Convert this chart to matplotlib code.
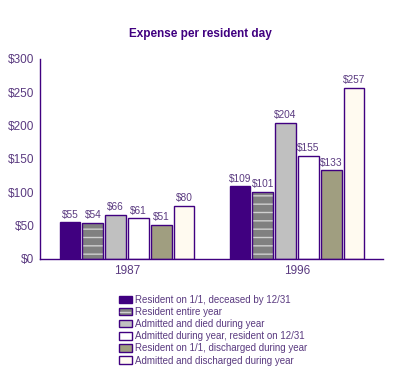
import numpy as np
import matplotlib.pyplot as plt
from matplotlib.legend_handler import HandlerBase

years = ['1987', '1996']
categories = [
    'Resident on 1/1, deceased by 12/31',
    'Resident entire year',
    'Admitted and died during year',
    'Admitted during year, resident on 12/31',
    'Resident on 1/1, discharged during year',
    'Admitted and discharged during year',
]
values = {
    '1987': [55, 54, 66, 61, 51, 80],
    '1996': [109, 101, 204, 155, 133, 257],
}
colors = ['#400080', '#808080', '#c0c0c0', '#ffffff', '#a09e80', '#fffaf0']

purple = '#400080'
text_purple = '#5a3a80'

plt.rcParams['font.family'] = ['Liberation Sans', 'DejaVu Sans']

fig = plt.figure(figsize=(4.0, 3.71), dpi=100)
ax = fig.add_axes([0.1, 0.302, 0.8575, 0.539])

x = np.arange(len(years))
slot = 0.134
width = 0.122
offsets = (np.arange(len(categories)) - (len(categories) - 1) / 2) * slot

for j, cat in enumerate(categories):
    vals = [values[y][j] for y in years]
    pos = x + offsets[j]
    if j == 1:
        # gray bars with light horizontal stripes
        ax.bar(pos, vals, width, color=colors[j], edgecolor='#d0d0d0',
               hatch='--', linewidth=0, zorder=2)
        ax.bar(pos, vals, width, fill=False, edgecolor=purple,
               linewidth=1, zorder=3)
    else:
        ax.bar(pos, vals, width, color=colors[j], edgecolor=purple,
               linewidth=1, zorder=2)
    for px, v in zip(pos, vals):
        ax.text(px, v + 4, f'${v}', ha='center', va='bottom',
                fontsize=7.3, color=text_purple)

ax.set_xlim(-0.512, 0.506 + 1)
ax.set_ylim(0, 300)
ax.set_yticks(range(0, 301, 50))
ax.set_yticklabels([f'${t}' for t in range(0, 301, 50)])
ax.set_xticks(x)
ax.set_xticklabels(years)
ax.tick_params(length=0, labelsize=8.5, labelcolor=text_purple, pad=4)
for s in ['top', 'right']:
    ax.spines[s].set_visible(False)
for s in ['left', 'bottom']:
    ax.spines[s].set_color(purple)
    ax.spines[s].set_linewidth(1)

fig.text(0.5, 1 - 34 / 371, 'Expense per resident day', ha='center', va='center',
         fontsize=8.5, fontweight='bold', color=purple)


class StripedHandler(HandlerBase):
    def create_artists(self, legend, orig_handle, xdescent, ydescent,
                       width, height, fontsize, trans):
        r = plt.Rectangle((-xdescent, -ydescent), width, height,
                          facecolor=colors[1], edgecolor=purple, linewidth=1,
                          transform=trans)
        ln = plt.Line2D([-xdescent + 1, -xdescent + width - 1],
                        [-ydescent + height / 2] * 2, color='#d0d0d0',
                        linewidth=1, transform=trans)
        return [r, ln]


handles = [plt.Rectangle((0, 0), 1, 1, facecolor=c, edgecolor=purple,
                         linewidth=1) for c in colors]

leg = fig.legend(handles, categories, loc='upper left',
                 bbox_to_anchor=(114 / 400, 1 - 290 / 371),
                 frameon=False, fontsize=7, handlelength=1.3, handleheight=0.8,
                 handletextpad=0.4, labelspacing=0.22, borderpad=0,
                 handler_map={handles[1]: StripedHandler()})
for t in leg.get_texts():
    t.set_color(text_purple)

fig.savefig('out.png', dpi=100)
